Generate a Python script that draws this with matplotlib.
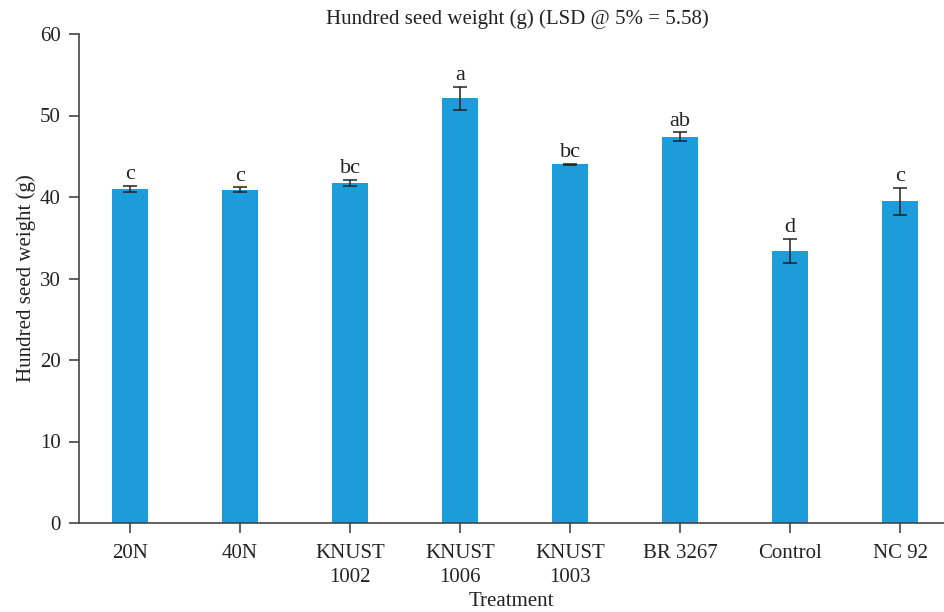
import matplotlib.pyplot as plt
import numpy as np

treatments = ["20N", "40N", "KNUST\n1002", "KNUST\n1006", "KNUST\n1003", "BR 3267", "Control", "NC 92"]
weights = [41.0, 40.9, 41.7, 52.1, 44.0, 47.4, 33.4, 39.5]
errors = [0.4, 0.3, 0.37, 1.43, 0.1, 0.55, 1.45, 1.66]
letters = ["c", "c", "bc", "a", "bc", "ab", "d", "c"]

plt.rcParams['font.family'] = ['Liberation Serif', 'DejaVu Serif']
text_color = "#222222"

fig = plt.figure(figsize=(9.44, 6.12), dpi=100)
ax = fig.add_axes([79 / 944, 1 - 523 / 612, (944 - 79) / 944, (523 - 34) / 612])

x = np.arange(len(treatments))
ax.bar(x, weights, width=0.32, color="#1c9dd9", zorder=2)
ax.errorbar(x, weights, yerr=errors, fmt="none", ecolor="#222222",
            elinewidth=1.1, capsize=5, capthick=1.1, zorder=3)

for xi, w, e, l in zip(x, weights, errors, letters):
    ax.text(xi, w + e + 0.2, l, ha="center", va="bottom", fontsize=16, color=text_color)

ax.set_xlim(-0.464, 7.4)
ax.set_ylim(0, 60)
ax.set_yticks(range(0, 61, 10))
ax.set_xticks(x)
ax.set_xticklabels(treatments, fontsize=15, color=text_color, linespacing=1.35)
ax.tick_params(axis="y", labelsize=15, labelcolor=text_color, length=7, width=1.2,
               color="#444444", pad=6)
ax.tick_params(axis="x", length=7, width=1.2, color="#444444", pad=8)

for side in ["top", "right"]:
    ax.spines[side].set_visible(False)
for side in ["left", "bottom"]:
    ax.spines[side].set_color("#444444")
    ax.spines[side].set_linewidth(1.2)

ax.set_xlabel("Treatment", fontsize=15, color=text_color, labelpad=4)
ax.set_ylabel("Hundred seed weight (g)", fontsize=15, color=text_color, labelpad=3)
fig.text(517 / 944, 1 - 19 / 612, "Hundred seed weight (g) (LSD @ 5% = 5.58)", ha="center", va="center",
         fontsize=15, color=text_color)

fig.savefig("out.png", dpi=100)
